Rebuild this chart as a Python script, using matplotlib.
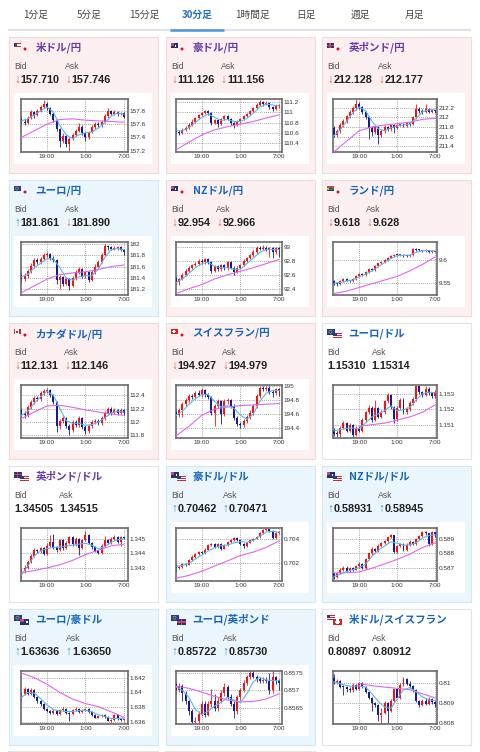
import numpy as np
import matplotlib
matplotlib.use('Agg')
import matplotlib.pyplot as plt
from matplotlib.patches import Rectangle, Circle

nan = float('nan')

# ---- tabs / panel texts ----
TABS = ['1分足', '5分足', '15分足', '30分足', '1時間足', '日足', '週足', '月足']
ACTIVE_TAB = '30分足'

PAIR_NAMES = ['米ドル/円', '豪ドル/円', '英ポンド/円', 'ユーロ/円', 'NZドル/円', 'ランド/円',
              'カナダドル/円', 'スイスフラン/円', 'ユーロ/ドル', '英ポンド/ドル', '豪ドル/ドル',
              'NZドル/ドル', 'ユーロ/豪ドル', 'ユーロ/英ポンド', '米ドル/スイスフラン']
BIDS = ['157.710', '111.126', '212.128', '181.861', '92.954', '9.618', '112.131', '194.927',
        '1.15310', '1.34505', '0.70462', '0.58931', '1.63636', '0.85722', '0.80897']
ASKS = ['157.746', '111.156', '212.177', '181.890', '92.966', '9.628', '112.146', '194.979',
        '1.15314', '1.34515', '0.70471', '0.58945', '1.63650', '0.85730', '0.80912']
BID_DIRS = ['down', 'down', 'down', 'up', 'down', 'down', 'down', 'down',
            '', '', 'up', 'up', 'up', 'up', '']
ASK_DIRS = ['down', 'down', 'down', 'down', 'down', 'down', 'down', 'down',
            '', '', 'up', 'up', 'up', 'up', '']
TONES = ['down', 'down', 'down', 'up', 'down', 'down', 'down', 'down',
         'flat', 'flat', 'up', 'up', 'up', 'up', 'flat']
VISITED = [True, True, True, False, False, False, False, False,
           False, True, False, False, False, False, False]
FLAGS = [('US', 'JP'), ('AU', 'JP'), ('GB', 'JP'), ('EU', 'JP'), ('NZ', 'JP'), ('ZA', 'JP'),
         ('CA', 'JP'), ('CH', 'JP'), ('EU', 'US'), ('GB', 'US'), ('AU', 'US'), ('NZ', 'US'),
         ('EU', 'AU'), ('EU', 'GB'), ('US', 'CH')]

X_TICKS = [8, 20, 32]
X_TICK_LABELS = ['19:00', '1:00', '7:00']

# ---- 30 min candles, 33 bars from 15:00 to 7:00 ----
USDJPY_OPEN0 = 157.68
USDJPY_CLOSE = [157.64, 157.62, 157.70, 157.78, 157.74, 157.80, 157.86, 157.90, 157.84, 157.76, 157.66,
                157.52, 157.34, 157.42, 157.30, 157.38, 157.44, 157.50, 157.56, 157.46, 157.40, 157.48,
                157.55, 157.60, 157.58, 157.64, 157.72, 157.80, 157.76, 157.79, 157.75, 157.77, 157.71]
USDJPY_HIGH = [157.72, 157.68, 157.73, 157.82, 157.80, 157.83, 157.89, 157.96, 157.93, 157.86, 157.78,
               157.68, 157.54, 157.46, 157.44, 157.40, 157.47, 157.53, 157.62, 157.58, 157.48, 157.50,
               157.58, 157.63, 157.63, 157.66, 157.75, 157.85, 157.82, 157.82, 157.80, 157.79, 157.78]
USDJPY_LOW = [157.58, 157.58, 157.60, 157.68, 157.70, 157.72, 157.78, 157.84, 157.82, 157.74, 157.64,
              157.50, 157.26, 157.32, 157.26, 157.20, 157.36, 157.42, 157.48, 157.44, 157.34, 157.38,
              157.46, 157.53, 157.55, 157.56, 157.62, 157.70, 157.74, 157.74, 157.73, 157.74, 157.69]
USDJPY_MA_FAST = [157.65, 157.68, 157.74, 157.80, 157.86, 157.78, 157.58, 157.44, 157.38, 157.44,
                  157.47, 157.48, 157.54, 157.62, 157.72, 157.77, 157.75]
USDJPY_MA_SLOW = [157.40, 157.50, 157.60, 157.67, 157.68, 157.66, 157.65, 157.64, 157.63]
USDJPY_YTICKS = [157.2, 157.4, 157.6, 157.8]

AUDJPY_OPEN0 = 110.66
AUDJPY_CLOSE = [110.62, 110.60, 110.66, 110.70, 110.76, 110.82, 110.88, 110.94, 110.98, 111.02, 110.98,
                110.80, 110.84, 110.78, 110.86, 110.92, 110.86, 110.80, 110.76, 110.82, 110.86, 110.92,
                110.96, 111.02, 111.08, 111.14, 111.20, 111.16, 111.18, 111.10, 111.06, 111.12, 111.13]
AUDJPY_HIGH = [110.70, 110.66, 110.69, 110.74, 110.79, 110.86, 110.91, 110.97, 111.01, 111.05, 111.04,
               111.00, 110.87, 110.86, 110.89, 110.95, 110.94, 110.88, 110.82, 110.85, 110.89, 110.95,
               110.99, 111.05, 111.11, 111.17, 111.23, 111.22, 111.21, 111.19, 111.12, 111.15, 111.16]
AUDJPY_LOW = [110.58, 110.56, 110.58, 110.64, 110.68, 110.74, 110.80, 110.86, 110.92, 110.96, 110.95,
              110.76, 110.77, 110.72, 110.76, 110.84, 110.84, 110.76, 110.70, 110.74, 110.80, 110.84,
              110.90, 110.94, 111.00, 111.06, 111.12, 111.13, 111.14, 111.07, 111.03, 111.04, 111.09]
AUDJPY_MA_FAST = [110.64, 110.64, 110.70, 110.80, 110.90, 110.97, 110.90, 110.84, 110.86, 110.82,
                  110.82, 110.88, 110.98, 111.10, 111.16, 111.14, 111.12]
AUDJPY_MA_SLOW = [110.27, 110.42, 110.56, 110.66, 110.72, 110.77, 110.82, 110.89, 110.95]
AUDJPY_YTICKS = [110.4, 110.6, 110.8, 111.0, 111.2]

GBPJPY_OPEN0 = 211.78
GBPJPY_CLOSE = [211.64, 211.72, 211.84, 211.92, 212.02, 212.12, 212.20, 212.28, 212.22, 212.12, 212.00,
                211.78, 211.70, 211.80, 211.64, 211.72, 211.80, 211.76, 211.84, 211.78, 211.84, 211.86,
                211.82, 211.88, 211.86, 212.00, 212.18, 212.14, 212.12, 212.18, 212.12, 212.15, 212.13]
GBPJPY_HIGH = [211.82, 211.76, 211.88, 211.96, 212.06, 212.16, 212.24, 212.38, 212.32, 212.25, 212.14,
               212.03, 211.82, 211.84, 211.83, 211.76, 211.84, 211.83, 211.87, 211.86, 211.87, 211.89,
               211.88, 211.91, 211.90, 212.04, 212.28, 212.22, 212.17, 212.28, 212.20, 212.18, 212.16]
GBPJPY_LOW = [211.60, 211.60, 211.68, 211.80, 211.88, 211.98, 212.08, 212.16, 212.18, 212.08, 211.96,
              211.55, 211.62, 211.66, 211.45, 211.60, 211.68, 211.72, 211.72, 211.67, 211.75, 211.82,
              211.79, 211.80, 211.83, 211.84, 211.97, 212.10, 212.08, 212.10, 212.09, 212.10, 212.10]
GBPJPY_MA_FAST = [211.62, 211.74, 211.92, 212.10, 212.22, 212.14, 211.92, 211.76, 211.72, 211.78,
                  211.82, 211.84, 211.86, 211.98, 212.12, 212.16, 212.16]
GBPJPY_MA_SLOW = [211.28, 211.50, 211.72, 211.80, 211.84, 211.87, 211.90, 211.96, 211.98]
GBPJPY_YTICKS = [211.4, 211.6, 211.8, 212.0, 212.2]

EURJPY_OPEN0 = 181.46
EURJPY_CLOSE = [181.38, 181.44, 181.52, 181.62, 181.72, 181.68, 181.74, 181.80, 181.82, 181.76, 181.72,
                181.36, 181.42, 181.30, 181.38, 181.26, 181.40, 181.50, 181.56, 181.44, 181.50, 181.36,
                181.50, 181.60, 181.68, 181.80, 181.96, 181.94, 181.92, 181.93, 181.94, 181.90, 181.86]
EURJPY_HIGH = [181.50, 181.48, 181.56, 181.66, 181.76, 181.76, 181.77, 181.84, 181.86, 181.85, 181.79,
               181.74, 181.46, 181.44, 181.42, 181.40, 181.44, 181.54, 181.60, 181.58, 181.53, 181.52,
               181.54, 181.64, 181.72, 181.84, 182.00, 181.99, 181.96, 181.96, 181.97, 181.96, 181.92]
EURJPY_LOW = [181.32, 181.34, 181.40, 181.49, 181.58, 181.64, 181.65, 181.70, 181.77, 181.72, 181.68,
              181.30, 181.20, 181.26, 181.27, 181.18, 181.24, 181.37, 181.47, 181.40, 181.40, 181.33,
              181.34, 181.47, 181.57, 181.66, 181.78, 181.90, 181.89, 181.89, 181.90, 181.88, 181.80]
EURJPY_MA_FAST = [181.42, 181.46, 181.58, 181.66, 181.74, 181.74, 181.58, 181.40, 181.36, 181.42,
                  181.44, 181.44, 181.56, 181.76, 181.90, 181.92, 181.90]
EURJPY_MA_SLOW = [181.14, 181.26, 181.38, 181.46, 181.49, 181.51, 181.55, 181.60, 181.63]
EURJPY_YTICKS = [181.2, 181.4, 181.6, 181.8, 182.0]

NZDJPY_OPEN0 = 92.55
NZDJPY_CLOSE = [92.49, 92.54, 92.60, 92.66, 92.70, 92.74, 92.76, 92.80, 92.78, 92.82, 92.78,
                92.66, 92.72, 92.68, 92.74, 92.69, 92.78, 92.70, 92.64, 92.70, 92.74, 92.80,
                92.84, 92.88, 92.92, 92.98, 92.97, 92.99, 92.96, 92.98, 92.92, 92.98, 92.95]
NZDJPY_HIGH = [92.58, 92.56, 92.63, 92.68, 92.72, 92.76, 92.78, 92.82, 92.82, 92.84, 92.84,
               92.80, 92.74, 92.74, 92.76, 92.76, 92.80, 92.80, 92.72, 92.72, 92.76, 92.82,
               92.86, 92.90, 92.95, 93.01, 93.01, 93.02, 93.01, 93.00, 93.00, 93.00, 93.00]
NZDJPY_LOW = [92.46, 92.46, 92.52, 92.58, 92.64, 92.68, 92.72, 92.74, 92.76, 92.76, 92.76,
              92.62, 92.64, 92.66, 92.66, 92.67, 92.67, 92.68, 92.60, 92.62, 92.68, 92.72,
              92.78, 92.82, 92.86, 92.90, 92.95, 92.95, 92.94, 92.86, 92.84, 92.90, 92.86]
NZDJPY_MA_FAST = [92.49, 92.54, 92.62, 92.70, 92.76, 92.78, 92.72, 92.70, 92.70, 92.68,
                  92.68, 92.76, 92.84, 92.92, 92.96, 92.96, 92.96]
NZDJPY_MA_SLOW = [92.33, 92.40, 92.46, 92.54, 92.60, 92.65, 92.70, 92.76, 92.82]
NZDJPY_YTICKS = [92.4, 92.6, 92.8, 93.0]

ZARJPY_OPEN0 = 9.555
ZARJPY_CLOSE = [9.548, 9.547, 9.554, 9.558, 9.555, 9.553, 9.559, 9.564, 9.569, 9.566, 9.574,
                9.580, 9.578, 9.586, 9.592, 9.596, 9.600, 9.605, 9.608, 9.611, 9.610, 9.611,
                9.609, 9.608, 9.610, 9.624, 9.622, 9.621, 9.619, 9.621, 9.617, 9.619, 9.618]
ZARJPY_HIGH = [9.557, 9.550, 9.556, 9.560, 9.560, 9.557, 9.561, 9.566, 9.571, 9.571, 9.576,
               9.582, 9.582, 9.588, 9.594, 9.598, 9.602, 9.607, 9.610, 9.613, 9.613, 9.613,
               9.612, 9.611, 9.612, 9.626, 9.626, 9.623, 9.622, 9.623, 9.622, 9.621, 9.620]
ZARJPY_LOW = [9.546, 9.543, 9.545, 9.552, 9.553, 9.551, 9.551, 9.557, 9.562, 9.564, 9.564,
              9.572, 9.576, 9.576, 9.584, 9.590, 9.594, 9.598, 9.603, 9.606, 9.608, 9.608,
              9.607, 9.606, 9.606, 9.608, 9.620, 9.619, 9.617, 9.617, 9.615, 9.615, 9.616]
ZARJPY_MA_FAST = [9.549, 9.551, 9.554, 9.556, 9.563, 9.569, 9.576, 9.585, 9.594, 9.603,
                  9.609, 9.610, 9.610, 9.616, 9.620, 9.620, 9.619]
ZARJPY_MA_SLOW = [9.527, 9.532, 9.540, 9.548, 9.556, 9.564, 9.576, 9.590, 9.606]
ZARJPY_YTICKS = [9.55, 9.6]

CADJPY_OPEN0 = 112.18
CADJPY_CLOSE = [112.12, 112.10, 112.22, 112.30, 112.36, 112.34, 112.44, 112.46, 112.48, 112.40, 112.30,
                111.94, 112.02, 112.06, 111.94, 111.88, 112.00, 111.96, 112.06, 111.92, 111.86, 111.94,
                112.00, 112.02, 111.98, 112.06, 112.14, 112.20, 112.14, 112.18, 112.14, 112.18, 112.13]
CADJPY_HIGH = [112.21, 112.16, 112.25, 112.33, 112.39, 112.39, 112.47, 112.49, 112.51, 112.50, 112.42,
               112.32, 112.05, 112.09, 112.08, 111.97, 112.03, 112.03, 112.09, 112.08, 111.95, 111.97,
               112.03, 112.05, 112.05, 112.09, 112.17, 112.23, 112.22, 112.21, 112.20, 112.21, 112.19]
CADJPY_LOW = [112.09, 112.06, 112.08, 112.19, 112.27, 112.31, 112.32, 112.41, 112.44, 112.37, 112.27,
              111.85, 111.90, 111.99, 111.91, 111.80, 111.85, 111.92, 111.93, 111.89, 111.82, 111.84,
              111.91, 111.97, 111.95, 111.95, 112.03, 112.11, 112.11, 112.12, 112.10, 112.12, 112.10]
CADJPY_MA_FAST = [112.10, 112.16, 112.28, 112.38, 112.46, 112.40, 112.20, 112.02, 111.98, 111.98,
                  111.95, 111.96, 112.00, 112.06, 112.14, 112.16, 112.15]
CADJPY_MA_SLOW = [112.05, 112.15, 112.24, 112.25, 112.22, 112.18, 112.15, 112.12, 112.10]
CADJPY_YTICKS = [111.8, 112.0, 112.2, 112.4]

CHFJPY_OPEN0 = 194.63
CHFJPY_CLOSE = [194.58, 194.66, 194.74, 194.80, 194.86, 194.84, 194.90, 194.88, 194.94, 194.87, 194.84,
                194.62, 194.72, 194.78, 194.60, 194.78, 194.80, 194.72, 194.54, 194.45, 194.44, 194.50,
                194.56, 194.62, 194.72, 194.86, 194.98, 194.96, 194.98, 194.92, 194.90, 194.96, 194.93]
CHFJPY_HIGH = [194.67, 194.69, 194.77, 194.83, 194.89, 194.89, 194.93, 194.95, 194.98, 194.96, 194.90,
               194.86, 194.75, 194.81, 194.80, 194.81, 194.83, 194.82, 194.75, 194.57, 194.48, 194.53,
               194.59, 194.65, 194.75, 194.89, 195.01, 195.01, 195.01, 195.00, 194.95, 194.98, 194.98]
CHFJPY_LOW = [194.53, 194.55, 194.55, 194.71, 194.77, 194.81, 194.82, 194.86, 194.85, 194.84, 194.81,
              194.58, 194.42, 194.69, 194.45, 194.57, 194.75, 194.69, 194.51, 194.42, 194.40, 194.41,
              194.47, 194.53, 194.59, 194.69, 194.83, 194.93, 194.93, 194.89, 194.84, 194.88, 194.86]
CHFJPY_MA_FAST = [194.58, 194.64, 194.74, 194.82, 194.88, 194.88, 194.78, 194.70, 194.72, 194.68,
                  194.58, 194.52, 194.60, 194.78, 194.90, 194.94, 194.94]
CHFJPY_MA_SLOW = [194.28, 194.42, 194.58, 194.67, 194.70, 194.72, 194.73, 194.74, 194.75]
CHFJPY_YTICKS = [194.4, 194.6, 194.8, 195.0]

EURUSD_OPEN0 = 1.15068
EURUSD_CLOSE = [1.15042, 1.15040, 1.15080, 1.15110, 1.15062, 1.15098, 1.15035, 1.15080, 1.15062, 1.15130, 1.15180,
                1.15210, 1.15132, 1.15208, 1.15150, 1.15182, 1.15250, 1.15290, 1.15212, 1.15135, 1.15210, 1.15262,
                1.15180, 1.15200, 1.15240, 1.15265, 1.15348, 1.15312, 1.15292, 1.15330, 1.15302, 1.15285, 1.15310]
EURUSD_HIGH = [1.15080, 1.15060, 1.15090, 1.15125, 1.15118, 1.15108, 1.15105, 1.15092, 1.15090, 1.15140, 1.15190,
               1.15225, 1.15218, 1.15260, 1.15215, 1.15195, 1.15262, 1.15302, 1.15295, 1.15222, 1.15222, 1.15275,
               1.15270, 1.15212, 1.15252, 1.15278, 1.15355, 1.15355, 1.15320, 1.15350, 1.15340, 1.15312, 1.15322]
EURUSD_LOW = [1.15025, 1.15020, 1.15022, 1.15070, 1.15050, 1.15052, 1.15015, 1.15025, 1.15050, 1.15052, 1.15120,
              1.15170, 1.15120, 1.15125, 1.15140, 1.15140, 1.15172, 1.15240, 1.15200, 1.15110, 1.15125, 1.15200,
              1.15170, 1.15170, 1.15190, 1.15230, 1.15255, 1.15300, 1.15280, 1.15285, 1.15290, 1.15270, 1.15275]
EURUSD_MA_FAST = [1.15060, 1.15068, 1.15076, 1.15078, 1.15074, 1.15110, 1.15150, 1.15170, 1.15190, 1.15222,
                  1.15190, 1.15196, 1.15210, 1.15260, 1.15300, 1.15310, 1.15306]
EURUSD_MA_SLOW = [nan, nan, 1.15090, 1.15100, 1.15110, 1.15130, 1.15150, 1.15180, 1.15228]
EURUSD_YTICKS = [1.151, 1.152, 1.153]

GBPUSD_OPEN0 = 1.34236
GBPUSD_CLOSE = [1.34280, 1.34300, 1.34340, 1.34380, 1.34420, 1.34412, 1.34432, 1.34392, 1.34448, 1.34478, 1.34440,
                1.34420, 1.34490, 1.34432, 1.34470, 1.34508, 1.34460, 1.34500, 1.34432, 1.34490, 1.34525, 1.34470,
                1.34440, 1.34415, 1.34400, 1.34450, 1.34490, 1.34470, 1.34500, 1.34512, 1.34480, 1.34508, 1.34505]
GBPUSD_HIGH = [1.34295, 1.34320, 1.34355, 1.34395, 1.34432, 1.34428, 1.34445, 1.34440, 1.34470, 1.34522, 1.34530,
               1.34450, 1.34500, 1.34495, 1.34482, 1.34520, 1.34515, 1.34512, 1.34505, 1.34500, 1.34550, 1.34535,
               1.34478, 1.34450, 1.34422, 1.34460, 1.34520, 1.34498, 1.34510, 1.34522, 1.34518, 1.34515, 1.34515]
GBPUSD_LOW = [1.34225, 1.34262, 1.34288, 1.34330, 1.34370, 1.34400, 1.34400, 1.34385, 1.34385, 1.34440, 1.34430,
              1.34405, 1.34412, 1.34420, 1.34425, 1.34462, 1.34450, 1.34450, 1.34390, 1.34425, 1.34482, 1.34460,
              1.34430, 1.34405, 1.34392, 1.34395, 1.34442, 1.34462, 1.34462, 1.34492, 1.34472, 1.34450, 1.34495]
GBPUSD_MA_FAST = [1.34250, 1.34310, 1.34380, 1.34415, 1.34430, 1.34440, 1.34442, 1.34448, 1.34455, 1.34462,
                  1.34468, 1.34455, 1.34430, 1.34445, 1.34475, 1.34492, 1.34498]
GBPUSD_MA_SLOW = [1.34265, 1.34280, 1.34298, 1.34320, 1.34350, 1.34390, 1.34420, 1.34450, 1.34462]
GBPUSD_YTICKS = [1.343, 1.344, 1.345]

AUDUSD_OPEN0 = 0.70175
AUDUSD_CLOSE = [0.70155, 0.70162, 0.70192, 0.70180, 0.70220, 0.70250, 0.70272, 0.70292, 0.70280, 0.70312, 0.70350,
                0.70362, 0.70330, 0.70362, 0.70320, 0.70352, 0.70375, 0.70392, 0.70412, 0.70390, 0.70360, 0.70342,
                0.70372, 0.70395, 0.70405, 0.70422, 0.70452, 0.70482, 0.70488, 0.70475, 0.70412, 0.70450, 0.70462]
AUDUSD_HIGH = [0.70190, 0.70178, 0.70200, 0.70198, 0.70232, 0.70262, 0.70285, 0.70302, 0.70300, 0.70322, 0.70362,
               0.70372, 0.70368, 0.70372, 0.70368, 0.70362, 0.70385, 0.70402, 0.70422, 0.70418, 0.70395, 0.70368,
               0.70380, 0.70405, 0.70412, 0.70430, 0.70462, 0.70490, 0.70496, 0.70492, 0.70480, 0.70458, 0.70470]
AUDUSD_LOW = [0.70120, 0.70145, 0.70155, 0.70172, 0.70175, 0.70212, 0.70242, 0.70265, 0.70272, 0.70272, 0.70305,
              0.70342, 0.70322, 0.70325, 0.70312, 0.70315, 0.70345, 0.70368, 0.70385, 0.70382, 0.70350, 0.70322,
              0.70335, 0.70365, 0.70388, 0.70398, 0.70415, 0.70445, 0.70475, 0.70465, 0.70405, 0.70405, 0.70445]
AUDUSD_MA_FAST = [0.70168, 0.70175, 0.70195, 0.70230, 0.70265, 0.70300, 0.70330, 0.70345, 0.70350, 0.70370,
                  0.70380, 0.70375, 0.70390, 0.70425, 0.70462, 0.70468, 0.70462]
AUDUSD_MA_SLOW = [0.70066, 0.70090, 0.70125, 0.70170, 0.70215, 0.70260, 0.70290, 0.70330, 0.70386]
AUDUSD_YTICKS = [0.702, 0.704]

NZDUSD_OPEN0 = 0.58665
NZDUSD_CLOSE = [0.58642, 0.58670, 0.58690, 0.58705, 0.58682, 0.58702, 0.58690, 0.58712, 0.58730, 0.58700, 0.58765,
                0.58800, 0.58832, 0.58820, 0.58852, 0.58870, 0.58882, 0.58910, 0.58922, 0.58812, 0.58850, 0.58862,
                0.58822, 0.58860, 0.58880, 0.58862, 0.58898, 0.58920, 0.58945, 0.58935, 0.58865, 0.58942, 0.58931]
NZDUSD_HIGH = [0.58675, 0.58678, 0.58700, 0.58715, 0.58712, 0.58710, 0.58708, 0.58720, 0.58740, 0.58738, 0.58772,
               0.58810, 0.58842, 0.58840, 0.58862, 0.58880, 0.58892, 0.58918, 0.58930, 0.58925, 0.58858, 0.58872,
               0.58868, 0.58868, 0.58888, 0.58885, 0.58905, 0.58928, 0.58952, 0.58950, 0.58940, 0.58950, 0.58948]
NZDUSD_LOW = [0.58630, 0.58635, 0.58662, 0.58682, 0.58672, 0.58675, 0.58682, 0.58685, 0.58705, 0.58692, 0.58695,
              0.58758, 0.58792, 0.58812, 0.58812, 0.58845, 0.58862, 0.58875, 0.58902, 0.58800, 0.58805, 0.58842,
              0.58815, 0.58815, 0.58852, 0.58855, 0.58855, 0.58890, 0.58912, 0.58925, 0.58850, 0.58860, 0.58912]
NZDUSD_MA_FAST = [0.58645, 0.58660, 0.58678, 0.58690, 0.58705, 0.58728, 0.58780, 0.58820, 0.58850, 0.58878,
                  0.58870, 0.58856, 0.58858, 0.58872, 0.58905, 0.58920, 0.58925]
NZDUSD_MA_SLOW = [0.58668, 0.58670, 0.58675, 0.58700, 0.58730, 0.58760, 0.58795, 0.58840, 0.58872]
NZDUSD_YTICKS = [0.587, 0.588, 0.589]

EURAUD_OPEN0 = 1.63920
EURAUD_CLOSE = [1.63985, 1.64045, 1.63980, 1.64030, 1.63940, 1.63880, 1.63840, 1.63780, 1.63750, 1.63720, 1.63752,
                1.63712, 1.63760, 1.63780, 1.63722, 1.63705, 1.63760, 1.63782, 1.63742, 1.63765, 1.63780, 1.63732,
                1.63700, 1.63662, 1.63680, 1.63700, 1.63670, 1.63620, 1.63625, 1.63700, 1.63645, 1.63628, 1.63636]
EURAUD_HIGH = [1.64010, 1.64070, 1.64060, 1.64055, 1.64045, 1.63955, 1.63900, 1.63855, 1.63795, 1.63765, 1.63775,
               1.63765, 1.63775, 1.63800, 1.63792, 1.63735, 1.63775, 1.63800, 1.63795, 1.63780, 1.63795, 1.63792,
               1.63745, 1.63710, 1.63695, 1.63715, 1.63712, 1.63680, 1.63640, 1.63712, 1.63712, 1.63655, 1.63645]
EURAUD_LOW = [1.63880, 1.63960, 1.63960, 1.63965, 1.63925, 1.63860, 1.63820, 1.63760, 1.63735, 1.63705, 1.63705,
              1.63695, 1.63700, 1.63745, 1.63710, 1.63620, 1.63695, 1.63745, 1.63730, 1.63730, 1.63750, 1.63720,
              1.63685, 1.63650, 1.63650, 1.63670, 1.63655, 1.63610, 1.63605, 1.63615, 1.63630, 1.63615, 1.63615]
EURAUD_MA_FAST = [1.63930, 1.64000, 1.63990, 1.63920, 1.63830, 1.63770, 1.63750, 1.63745, 1.63745, 1.63755,
                  1.63760, 1.63740, 1.63700, 1.63678, 1.63650, 1.63650, 1.63655]
EURAUD_MA_SLOW = [1.64260, 1.64200, 1.64110, 1.64000, 1.63910, 1.63850, 1.63810, 1.63740, 1.63665]
EURAUD_YTICKS = [1.636, 1.638, 1.640, 1.642]

EURGBP_OPEN0 = 0.85718
EURGBP_CLOSE = [0.85700, 0.85714, 0.85692, 0.85668, 0.85640, 0.85610, 0.85612, 0.85632, 0.85662, 0.85630, 0.85660,
                0.85670, 0.85648, 0.85670, 0.85692, 0.85710, 0.85682, 0.85662, 0.85640, 0.85680, 0.85700, 0.85722,
                0.85738, 0.85750, 0.85740, 0.85732, 0.85728, 0.85730, 0.85726, 0.85700, 0.85738, 0.85726, 0.85722]
EURGBP_HIGH = [0.85725, 0.85720, 0.85718, 0.85698, 0.85672, 0.85645, 0.85622, 0.85640, 0.85670, 0.85668, 0.85668,
               0.85705, 0.85690, 0.85680, 0.85702, 0.85720, 0.85715, 0.85690, 0.85668, 0.85688, 0.85708, 0.85730,
               0.85745, 0.85758, 0.85775, 0.85745, 0.85738, 0.85740, 0.85738, 0.85750, 0.85760, 0.85742, 0.85732]
EURGBP_LOW = [0.85690, 0.85695, 0.85670, 0.85660, 0.85630, 0.85605, 0.85605, 0.85605, 0.85625, 0.85622, 0.85625,
              0.85652, 0.85640, 0.85640, 0.85665, 0.85685, 0.85675, 0.85655, 0.85620, 0.85632, 0.85672, 0.85695,
              0.85715, 0.85732, 0.85735, 0.85725, 0.85720, 0.85722, 0.85720, 0.85690, 0.85692, 0.85718, 0.85700]
EURGBP_MA_FAST = [0.85710, 0.85700, 0.85680, 0.85645, 0.85630, 0.85640, 0.85655, 0.85665, 0.85680, 0.85672,
                  0.85665, 0.85690, 0.85725, 0.85738, 0.85730, 0.85728, 0.85728]
EURGBP_MA_SLOW = [0.85712, 0.85706, 0.85695, 0.85683, 0.85672, 0.85667, 0.85668, 0.85675, 0.85690]
EURGBP_YTICKS = [0.8565, 0.857, 0.8575]

USDCHF_OPEN0 = 0.81022
USDCHF_CLOSE = [0.81002, 0.81010, 0.80980, 0.80978, 0.80970, 0.80962, 0.80990, 0.80970, 0.80998, 0.80980, 0.80955,
                0.80925, 0.80898, 0.80888, 0.80842, 0.80852, 0.80900, 0.80862, 0.80910, 0.80968, 0.80925, 0.80990,
                0.81020, 0.80995, 0.80982, 0.80962, 0.80910, 0.80890, 0.80910, 0.80895, 0.80920, 0.80905, 0.80897]
USDCHF_HIGH = [0.81045, 0.81018, 0.81015, 0.80990, 0.80985, 0.80978, 0.80998, 0.80995, 0.81005, 0.81002, 0.80985,
               0.80960, 0.80930, 0.80905, 0.80895, 0.80875, 0.80910, 0.80905, 0.80918, 0.80975, 0.80972, 0.80998,
               0.81030, 0.81025, 0.81010, 0.80990, 0.80968, 0.80915, 0.80918, 0.80925, 0.80928, 0.80925, 0.80910]
USDCHF_LOW = [0.80995, 0.80995, 0.80975, 0.80940, 0.80955, 0.80955, 0.80955, 0.80962, 0.80962, 0.80975, 0.80948,
              0.80918, 0.80860, 0.80880, 0.80810, 0.80800, 0.80845, 0.80800, 0.80855, 0.80905, 0.80918, 0.80920,
              0.80985, 0.80988, 0.80975, 0.80955, 0.80905, 0.80882, 0.80885, 0.80890, 0.80890, 0.80895, 0.80880]
USDCHF_MA_FAST = [0.81005, 0.80995, 0.80985, 0.80982, 0.80983, 0.80978, 0.80945, 0.80908, 0.80880, 0.80872,
                  0.80920, 0.80965, 0.80975, 0.80955, 0.80930, 0.80915, 0.80912]
USDCHF_MA_SLOW = [nan, nan, 0.80995, 0.80985, 0.80978, 0.80972, 0.80965, 0.80945, 0.80925]
USDCHF_YTICKS = [0.808, 0.809, 0.81]

OPEN0S = [USDJPY_OPEN0, AUDJPY_OPEN0, GBPJPY_OPEN0, EURJPY_OPEN0, NZDJPY_OPEN0, ZARJPY_OPEN0, CADJPY_OPEN0,
          CHFJPY_OPEN0, EURUSD_OPEN0, GBPUSD_OPEN0, AUDUSD_OPEN0, NZDUSD_OPEN0, EURAUD_OPEN0, EURGBP_OPEN0,
          USDCHF_OPEN0]
CLOSES = [USDJPY_CLOSE, AUDJPY_CLOSE, GBPJPY_CLOSE, EURJPY_CLOSE, NZDJPY_CLOSE, ZARJPY_CLOSE, CADJPY_CLOSE,
          CHFJPY_CLOSE, EURUSD_CLOSE, GBPUSD_CLOSE, AUDUSD_CLOSE, NZDUSD_CLOSE, EURAUD_CLOSE, EURGBP_CLOSE,
          USDCHF_CLOSE]
HIGHS = [USDJPY_HIGH, AUDJPY_HIGH, GBPJPY_HIGH, EURJPY_HIGH, NZDJPY_HIGH, ZARJPY_HIGH, CADJPY_HIGH,
         CHFJPY_HIGH, EURUSD_HIGH, GBPUSD_HIGH, AUDUSD_HIGH, NZDUSD_HIGH, EURAUD_HIGH, EURGBP_HIGH, USDCHF_HIGH]
LOWS = [USDJPY_LOW, AUDJPY_LOW, GBPJPY_LOW, EURJPY_LOW, NZDJPY_LOW, ZARJPY_LOW, CADJPY_LOW,
        CHFJPY_LOW, EURUSD_LOW, GBPUSD_LOW, AUDUSD_LOW, NZDUSD_LOW, EURAUD_LOW, EURGBP_LOW, USDCHF_LOW]
MA_FASTS = [USDJPY_MA_FAST, AUDJPY_MA_FAST, GBPJPY_MA_FAST, EURJPY_MA_FAST, NZDJPY_MA_FAST, ZARJPY_MA_FAST,
            CADJPY_MA_FAST, CHFJPY_MA_FAST, EURUSD_MA_FAST, GBPUSD_MA_FAST, AUDUSD_MA_FAST, NZDUSD_MA_FAST,
            EURAUD_MA_FAST, EURGBP_MA_FAST, USDCHF_MA_FAST]
MA_SLOWS = [USDJPY_MA_SLOW, AUDJPY_MA_SLOW, GBPJPY_MA_SLOW, EURJPY_MA_SLOW, NZDJPY_MA_SLOW, ZARJPY_MA_SLOW,
            CADJPY_MA_SLOW, CHFJPY_MA_SLOW, EURUSD_MA_SLOW, GBPUSD_MA_SLOW, AUDUSD_MA_SLOW, NZDUSD_MA_SLOW,
            EURAUD_MA_SLOW, EURGBP_MA_SLOW, USDCHF_MA_SLOW]
YTICKS = [USDJPY_YTICKS, AUDJPY_YTICKS, GBPJPY_YTICKS, EURJPY_YTICKS, NZDJPY_YTICKS, ZARJPY_YTICKS,
          CADJPY_YTICKS, CHFJPY_YTICKS, EURUSD_YTICKS, GBPUSD_YTICKS, AUDUSD_YTICKS, NZDUSD_YTICKS,
          EURAUD_YTICKS, EURGBP_YTICKS, USDCHF_YTICKS]

# axis ranges
Y_RANGES = [(157.18, 157.975), (110.23, 111.25), (211.275, 212.38), (181.10, 182.03), (92.31, 93.065),
            (9.5236, 9.638), (111.76, 112.55), (194.25, 195.015), (1.15014, 1.15354), (1.34208, 1.34571),
            (0.70042, 0.70494), (0.58614, 0.5897), (1.63576, 1.64284), (0.85603, 0.85755), (0.80796, 0.81056)]

# ---- layout (pixels) ----
W, H = 480, 752
TAB_X = [36, 89, 144, 197, 252, 306, 360, 414]
COL_X = [8, 165, 321]
ROW_Y = [36, 179, 322, 465, 608]
PANEL_W, PANEL_H = 150, 137
PLOT_X = [(12.7, 119.5), (10.7, 117.3), (12.3, 115.7)]
X_LIMITS = [(-0.2, 33.1), (-0.1, 33.0), (-0.2, 32.5)]

TONE_STYLE = {'down': ('#fcefef', '#f1dada'), 'up': ('#ebf5fc', '#d5e6f3'), 'flat': ('#ffffff', '#e4e4e4')}
ARROW_COLOR = {'down': '#e0674a', 'up': '#3d9cc6'}
ARROW_CHAR = {'down': '↓', 'up': '↑'}
UP_COLOR, DOWN_COLOR = '#ff1010', '#18189a'
FAST_COLOR, SLOW_COLOR = '#52b9ee', '#e065ee'

JP_FONT = ['Noto Sans CJK JP', 'DejaVu Sans']
NUM_FONT = ['Liberation Sans', 'DejaVu Sans']


def draw_flag(ax, code, x, y, w, h):
    if code == 'US':
        ax.add_patch(Rectangle((x, y), w, h, fc='white', ec='none'))
        for k in range(3):
            ax.add_patch(Rectangle((x, y + k * h / 3), w, h / 6, fc='#c8283c', ec='none'))
        ax.add_patch(Rectangle((x, y), w * 0.45, h * 0.55, fc='#2d3a80', ec='none'))
    elif code in ('AU', 'NZ'):
        ax.add_patch(Rectangle((x, y), w, h, fc='#24307a', ec='none'))
        ax.add_patch(Rectangle((x, y), w * 0.45, h * 0.5, fc='#c84a5c', ec='none'))
        ax.add_patch(Rectangle((x + w * 0.65, y + h * 0.45), w * 0.2, h * 0.3, fc='white', ec='none'))
    elif code == 'GB':
        ax.add_patch(Rectangle((x, y), w, h, fc='#2a3577', ec='none'))
        ax.add_patch(Rectangle((x, y + h * 0.38), w, h * 0.24, fc='#d04060', ec='none'))
        ax.add_patch(Rectangle((x + w * 0.4, y), w * 0.2, h, fc='#d04060', ec='none'))
    elif code == 'EU':
        ax.add_patch(Rectangle((x, y), w, h, fc='#233d96', ec='none'))
        ax.add_patch(Circle((x + w / 2, y + h / 2), h * 0.28, fc='none', ec='#c8b84a', lw=0.4))
    elif code == 'ZA':
        ax.add_patch(Rectangle((x, y), w, h, fc='#1f7a4a', ec='none'))
        ax.add_patch(Rectangle((x, y), w, h * 0.3, fc='#d04040', ec='none'))
        ax.add_patch(Rectangle((x, y + h * 0.7), w, h * 0.3, fc='#2a3a8a', ec='none'))
        ax.add_patch(Rectangle((x, y + h * 0.3), w * 0.3, h * 0.4, fc='#e0c040', ec='none'))
    elif code == 'CA':
        ax.add_patch(Rectangle((x, y), w, h, fc='white', ec='none'))
        ax.add_patch(Rectangle((x, y), w * 0.25, h, fc='#d42a2a', ec='none'))
        ax.add_patch(Rectangle((x + w * 0.75, y), w * 0.25, h, fc='#d42a2a', ec='none'))
        ax.add_patch(Rectangle((x + w * 0.4, y + h * 0.3), w * 0.2, h * 0.4, fc='#d42a2a', ec='none'))
    elif code == 'CH':
        ax.add_patch(Rectangle((x, y), w, h, fc='#e02020', ec='none'))
        ax.add_patch(Rectangle((x + w * 0.38, y + h * 0.15), w * 0.24, h * 0.7, fc='white', ec='none'))
        ax.add_patch(Rectangle((x + w * 0.2, y + h * 0.38), w * 0.6, h * 0.24, fc='white', ec='none'))


def draw_candles(ax, open0, close, high, low, yspan):
    close = np.asarray(close, dtype=float)
    opens = np.concatenate([[open0], close[:-1]])
    top = np.maximum(opens, close)
    bot = np.minimum(opens, close)
    high = np.maximum(np.asarray(high, dtype=float), top)
    low = np.minimum(np.asarray(low, dtype=float), bot)
    idx = np.arange(len(close))
    colors = np.where(close >= opens, UP_COLOR, DOWN_COLOR)
    ax.vlines(idx, low, high, colors=colors, linewidth=0.6, zorder=2)
    body = np.maximum(top - bot, yspan * 0.015)
    ax.bar(idx, body, bottom=bot, width=0.62, color=colors, linewidth=0, zorder=3)


fig = plt.figure(figsize=(W / 100, H / 100), dpi=100)
fig.patch.set_facecolor('white')
bg = fig.add_axes([0, 0, 1, 1])
bg.set_xlim(0, W)
bg.set_ylim(H, 0)
bg.axis('off')

# tab bar
bg.plot([8, 471], [29.5, 29.5], color='#dfe4ea', lw=1.5, solid_capstyle='butt')
for tab, tx in zip(TABS, TAB_X):
    active = tab == ACTIVE_TAB
    bg.text(tx, 15, tab, ha='center', va='center', fontsize=7, family=JP_FONT,
            color='#1f6fc0' if active else '#444444', weight='bold' if active else 'normal')
    if active:
        bg.plot([170, 224], [29.5, 29.5], color='#4f93d8', lw=1.8, solid_capstyle='butt')

# partial next row at the bottom edge
for cx in COL_X[:2]:
    bg.plot([cx, cx + PANEL_W], [750.5, 750.5], color='#e4e4e4', lw=0.8)

renderer = fig.canvas.get_renderer()


def text_end(t):
    return t.get_window_extent(renderer=renderer).x1


def price_text(x, y, direction, value):
    # arrow (optional) followed by the bold price; returns right edge
    if direction:
        a = bg.text(x, y + 0.4, ARROW_CHAR[direction], ha='left', va='center', fontsize=8.8,
                    family=NUM_FONT, color=ARROW_COLOR[direction])
        x = text_end(a) + 0.2
    v = bg.text(x, y, value, ha='left', va='center', fontsize=7.8, weight='bold',
                family=NUM_FONT, color='#222222')
    return text_end(v)


for i, name in enumerate(PAIR_NAMES):
    row, col = divmod(i, 3)
    px, py = COL_X[col], ROW_Y[row]
    face, edge = TONE_STYLE[TONES[i]]
    bg.add_patch(Rectangle((px + 0.5, py + 0.5), PANEL_W - 1, PANEL_H - 1, fc=face, ec=edge, lw=0.8))
    bg.add_patch(Rectangle((px + 6, py + 57), 138, 71, fc='white', ec='none'))

    base, quote = FLAGS[i]
    if quote == 'JP':
        draw_flag(bg, base, px + 5.5, py + 7, 7, 5)
        bg.add_patch(Circle((px + 17, py + 13), 1.5, fc='#d8102c', ec='none'))
    else:
        draw_flag(bg, base, px + 5.5, py + 7, 8, 5.5)
        draw_flag(bg, quote, px + 12, py + 10.5, 9, 6.5)

    bg.text(px + 27.5, py + 11.7, name, ha='left', va='center', fontsize=7.6, weight='bold',
            family=JP_FONT, color='#6a3aa8' if VISITED[i] else '#1565c0')

    bg.text(px + 6.5, py + 30.3, 'Bid', ha='left', va='center', fontsize=6.2, family=NUM_FONT, color='#555555')
    ask_x = price_text(px + 6.5, py + 43.7, BID_DIRS[i], BIDS[i]) + 5.5
    bg.text(ask_x, py + 30.3, 'Ask', ha='left', va='center', fontsize=6.2, family=NUM_FONT, color='#555555')
    price_text(ask_x, py + 43.7, ASK_DIRS[i], ASKS[i])

    # chart
    left, right = PLOT_X[col]
    top, bottom = py + 63.3, py + 116
    ax = fig.add_axes([(px + left) / W, 1 - bottom / H, (right - left) / W, (bottom - top) / H])
    ax.set_facecolor('white')
    y0, y1 = Y_RANGES[i]
    draw_candles(ax, OPEN0S[i], CLOSES[i], HIGHS[i], LOWS[i], y1 - y0)
    ax.plot(np.arange(0, 33, 4), MA_SLOWS[i], color=SLOW_COLOR, lw=0.8, zorder=4)
    ax.plot(np.arange(0, 33, 2), MA_FASTS[i], color=FAST_COLOR, lw=0.8, zorder=5)
    ax.set_xlim(*X_LIMITS[col])
    ax.set_ylim(y0, y1)
    ax.set_xticks(X_TICKS)
    ax.set_xticklabels(X_TICK_LABELS)
    ax.set_yticks(YTICKS[i])
    ax.set_yticklabels([format(t, 'g') for t in YTICKS[i]])
    ax.yaxis.tick_right()
    ax.tick_params(length=0, labelsize=4.6, labelcolor='#333333', pad=1.2)
    for lab in ax.get_xticklabels() + ax.get_yticklabels():
        lab.set_family(NUM_FONT)
    ax.grid(True, linestyle=(0, (1, 1.5)), color='#8a8a8a', linewidth=0.6, zorder=1)
    ax.set_axisbelow(True)
    for sp in ax.spines.values():
        sp.set_color('#6a6a6a')
        sp.set_linewidth(1.2)

fig.savefig('out.png', dpi=100, facecolor='white')
